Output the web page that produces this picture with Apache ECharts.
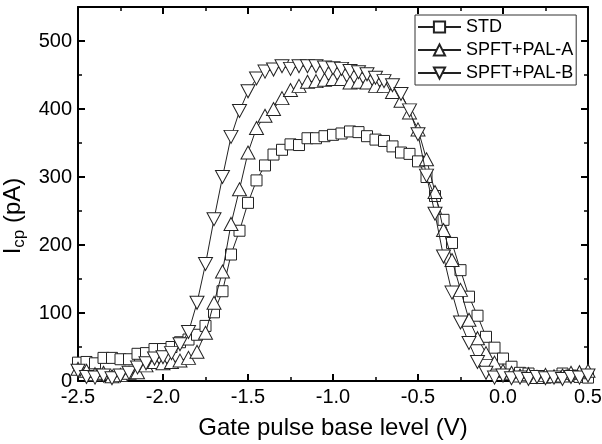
<!DOCTYPE html>
<html>
<head>
<meta charset="utf-8">
<script src="https://cdn.jsdelivr.net/npm/echarts@6/dist/echarts.min.js"></script>
<style>
html,body{margin:0;padding:0;background:#fff;}
#c{width:602px;height:444px;}
</style>
</head>
<body>
<div id="c"></div>
<script>
var voltage = [-2.50,-2.45,-2.40,-2.35,-2.30,-2.25,-2.20,-2.15,-2.10,-2.05,-2.00,-1.95,-1.90,-1.85,-1.80,-1.75,-1.70,-1.65,-1.60,-1.55,-1.50,-1.45,-1.40,-1.35,-1.30,-1.25,-1.20,-1.15,-1.10,-1.05,-1.00,-0.95,-0.90,-0.85,-0.80,-0.75,-0.70,-0.65,-0.60,-0.55,-0.50,-0.45,-0.40,-0.35,-0.30,-0.25,-0.20,-0.15,-0.10,-0.05,0.00,0.05,0.10,0.15,0.20,0.25,0.30,0.35,0.40,0.45,0.50];
var stdValues = [27,28,26,34,34,32,32,40,41,47,47,50,57,61,68,81,101,132,186,221,262,295,317,333,340,348,347,357,357,360,362,364,367,366,360,355,353,345,336,334,323,300,272,237,203,163,124,96,65,49,33,21,12,11,7,5,6,11,8,6,5];
var palAValues = [18,15,10,12,7,9,12,13,23,28,26,28,30,34,43,71,115,161,231,282,336,372,390,400,416,428,434,440,441,443,444,444,439,440,439,434,434,425,412,395,370,326,278,222,178,134,90,63,41,27,15,12,8,10,6,9,7,8,12,13,15];
var palBValues = [15,6,5,8,4,8,12,20,26,33,35,41,54,72,115,172,238,300,359,397,426,445,455,458,463,459,463,463,463,461,460,459,456,454,451,446,441,435,422,398,363,302,246,183,130,86,56,28,12,5,8,4,5,3,6,4,5,3,6,5,8];
var seriesNames = ['STD','SPFT+PAL-A','SPFT+PAL-B'];
var xTicks = ['-2.5','-2.0','-1.5','-1.0','-0.5','0.0','0.5'];
var yTicks = ['0','100','200','300','400','500'];

function pairs(vals){ return voltage.map(function(v,i){ return [v, vals[i]]; }); }

var FONT = '"Liberation Sans", Arial, sans-serif';
var axisLineStyle = {color:'#000', width:2};
var majorTick = {show:true, inside:true, length:7, lineStyle:{color:'#000', width:2}};
var minorTick = {show:true, splitNumber:2, length:4, lineStyle:{color:'#000', width:1.5}};

var chart = echarts.init(document.getElementById('c'), null, {renderer:'canvas'});
var mk = {color:'#fff', borderColor:'#222', borderWidth:1};
var ln = {color:'#222', width:1};
chart.setOption({
  animation:false,
  backgroundColor:'#fff',
  grid:{left:78, right:14, top:7, bottom:63, containLabel:false, outerBoundsMode:'none'},
  legend:{
    orient:'vertical', left:415, top:15,
    backgroundColor:'#fff',
    borderColor:'#333', borderWidth:1,
    padding:[3,3,3,2], itemGap:5,
    itemWidth:43, itemHeight:14,
    textStyle:{fontFamily:FONT, fontSize:18, color:'#000'},
    data:seriesNames
  },
  xAxis:[{
    type:'value', min:-2.5, max:0.5, interval:0.5, position:'bottom',
    axisLine:{show:true, onZero:false, lineStyle:axisLineStyle},
    axisTick:majorTick, minorTick:minorTick,
    splitLine:{show:false},
    axisLabel:{fontFamily:FONT, fontSize:20, color:'#000', margin:6,
      formatter:function(v){ var i=Math.round((v+2.5)/0.5); return xTicks[i]; }},
    name:'Gate pulse base level (V)', nameLocation:'middle', nameGap:35,
    nameTextStyle:{fontFamily:FONT, fontSize:24, color:'#000'}
  },{
    type:'value', min:-2.5, max:0.5, interval:0.5, position:'top',
    axisLine:{show:true, onZero:false, lineStyle:axisLineStyle},
    axisTick:majorTick, minorTick:minorTick,
    splitLine:{show:false}, axisLabel:{show:false}
  }],
  yAxis:[{
    type:'value', min:0, max:550, interval:100, position:'left',
    axisLine:{show:true, onZero:false, lineStyle:axisLineStyle},
    axisTick:majorTick, minorTick:minorTick,
    splitLine:{show:false},
    axisLabel:{fontFamily:FONT, fontSize:20, color:'#000', margin:6, showMaxLabel:false,
      formatter:function(v){ var i=Math.round(v/100); return v%100===0 ? yTicks[i] : ''; }},
    name:'{a|I}{b|cp}{a| (pA)}', nameLocation:'middle', nameGap:44, nameRotate:90,
    nameTextStyle:{fontFamily:FONT, color:'#000', padding:[0,44,0,0],
      rich:{a:{fontFamily:FONT, fontSize:24, color:'#000'}, b:{fontFamily:FONT, fontSize:17, color:'#000', padding:[11,0,0,0]}}}
  },{
    type:'value', min:0, max:550, interval:100, position:'right',
    axisLine:{show:true, onZero:false, lineStyle:axisLineStyle},
    axisTick:majorTick, minorTick:minorTick,
    splitLine:{show:false}, axisLabel:{show:false}
  }],
  series:[
    {name:seriesNames[0], type:'line', data:pairs(stdValues), symbol:'rect', symbolSize:11,
     showAllSymbol:true, itemStyle:mk, lineStyle:ln, z:3},
    {name:seriesNames[1], type:'line', data:pairs(palAValues), symbol:'triangle', symbolSize:[14,13],
     showAllSymbol:true, itemStyle:mk, lineStyle:ln, z:4},
    {name:seriesNames[2], type:'line', data:pairs(palBValues), symbol:'triangle', symbolRotate:180, symbolSize:[14,13],
     showAllSymbol:true, itemStyle:mk, lineStyle:ln, z:5}
  ]
});
</script>
</body>
</html>
